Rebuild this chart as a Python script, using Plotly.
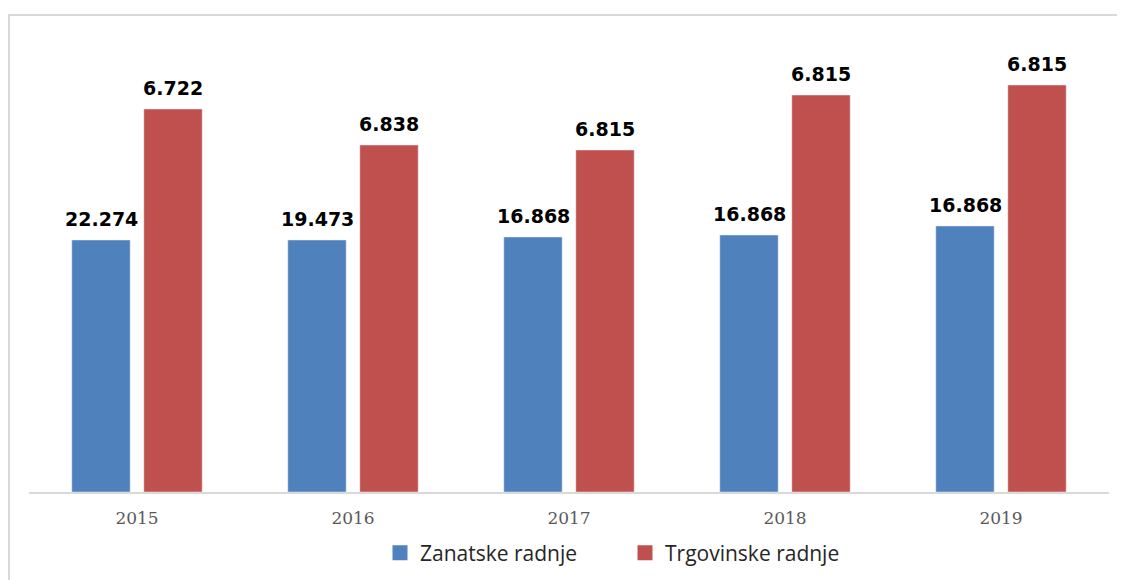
import plotly.graph_objects as go

# data (bar heights as drawn, labels as printed)
years = ['2015', '2016', '2017', '2018', '2019']
zanatske_height = [252, 252, 255, 257, 266]
trgovinske_height = [383, 347, 342, 397, 407]
zanatske_label = ['22.274', '19.473', '16.868', '16.868', '16.868']
trgovinske_label = ['6.722', '6.838', '6.815', '6.815', '6.815']

blue = '#4F81BD'
red = '#C0504D'

fig = go.Figure()

fig.add_trace(go.Bar(
    x=years, y=zanatske_height, name='Zanatske radnje',
    marker_color=blue, hoverinfo='skip', showlegend=False
))
fig.add_trace(go.Bar(
    x=years, y=trgovinske_height, name='Trgovinske radnje',
    marker_color=red, hoverinfo='skip', showlegend=False
))

# legend entries with bigger square swatches
for name, col in [('Zanatske radnje', blue), ('Trgovinske radnje', red)]:
    fig.add_trace(go.Scatter(
        x=[None], y=[None], mode='markers', name=name,
        marker=dict(symbol='square', size=15, color=col)
    ))

# value labels above the bars (x given as category index)
label_font = dict(family='DejaVu Sans', size=19, color='#000000')
for i, (h, t) in enumerate(zip(zanatske_height, zanatske_label)):
    fig.add_annotation(x=i, y=h, text='<b>%s</b>' % t, showarrow=False,
                       xshift=-36, yshift=8, yanchor='bottom', font=label_font)
for i, (h, t) in enumerate(zip(trgovinske_height, trgovinske_label)):
    fig.add_annotation(x=i, y=h, text='<b>%s</b>' % t, showarrow=False,
                       xshift=36, yshift=8, yanchor='bottom', font=label_font)

# outer frame
fig.add_shape(type='rect', xref='paper', yref='paper',
              x0=-0.0185, x1=1.03, y0=-0.25, y1=1.06,
              line=dict(color='#D9D9D9', width=2), layer='below')

fig.update_layout(
    width=1125, height=580,
    margin=dict(l=21, r=24, t=34, b=96),
    paper_bgcolor='white', plot_bgcolor='white',
    barmode='group', bargap=0.333, bargroupgap=0.19,
    showlegend=True,
    legend=dict(orientation='h', x=0.325, xanchor='left', y=-0.136, yanchor='middle',
                font=dict(family='Open Sans', size=21, color='#262626'),
                itemwidth=30, entrywidth=200, entrywidthmode='pixels',
                traceorder='normal'),
    xaxis=dict(type='category', range=[-0.5, len(years) - 0.5],
               showline=True, linecolor='#D9D9D9', linewidth=2, ticks='',
               ticklabelstandoff=10,
               tickfont=dict(family='DejaVu Serif', size=17, color='#595959'),
               showgrid=False, fixedrange=True),
    yaxis=dict(range=[0, 450], visible=False, showgrid=False, fixedrange=True),
)

fig.write_html("out.html")
